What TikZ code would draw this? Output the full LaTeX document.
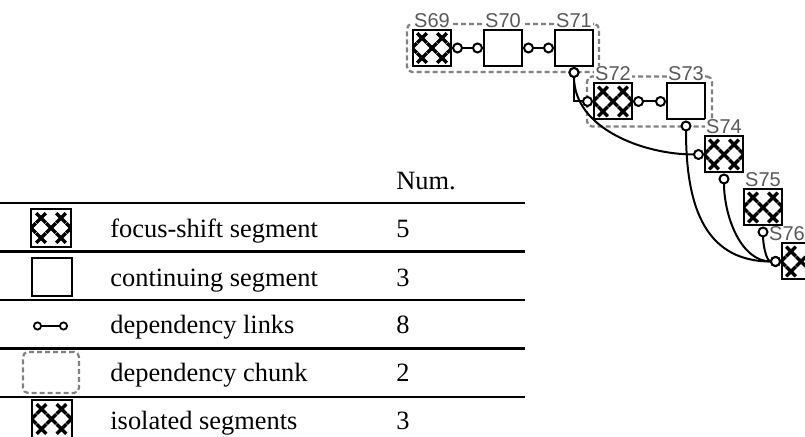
\documentclass[tikz,border=0pt]{standalone}
\usepackage{fontspec}
\setmainfont{Liberation Serif}
\newfontfamily\segfont{Liberation Sans}
\usetikzlibrary{arrows.meta, positioning, fit, backgrounds}
\tikzset{
  seg/.style={rectangle,draw,line width=1pt,minimum width=19pt,minimum height=18pt,inner sep=0pt,fill=white},
  focus/.style={seg,path picture={
      \begin{scope}[shift={(path picture bounding box.center)}]
      \foreach \cx/\cy in {-5/5,5/5,0/0,-5/-5,5/-5,-10/0,10/0}
        \draw[line width=1.6pt] ({(\cx-2.4)*1pt},{(\cy-2.4)*1pt}) -- ({(\cx+2.4)*1pt},{(\cy+2.4)*1pt})
                                ({(\cx-2.4)*1pt},{(\cy+2.4)*1pt}) -- ({(\cx+2.4)*1pt},{(\cy-2.4)*1pt});
      \end{scope}}},
  seglabel/.style={font=\segfont\fontsize{10}{11}\selectfont,text=black!65,fill=white,inner sep=0.5pt},
  chunk/.style={draw=black!50,dash pattern=on 2.5pt off 1.5pt,line width=1.1pt,rounded corners=2.5pt},
  link/.style={line width=1pt,{Circle[length=5.5pt,fill=white]}-{Circle[length=5.5pt,fill=white]}},
  txt/.style={anchor=base west,inner sep=0pt,font=\fontsize{13.2}{15}\selectfont}
}
\begin{document}
\begin{tikzpicture}[x=0.5pt,y=-0.5pt]
\useasboundingbox (0,0) rectangle (805,437);
% segments
\node[focus,label={[seglabel]above:S69}] (s69) at (432,48) {};
\node[seg,right=15.5pt of s69,label={[seglabel]above:S70}] (s70) {};
\node[seg,right=15.5pt of s70,label={[seglabel]above:S71}] (s71) {};
\node[focus,below right=7.75pt and -0.5pt of s71,label={[seglabel]above:S72}] (s72) {};
\node[seg,right=16.5pt of s72,label={[seglabel]above:S73}] (s73) {};
\node[focus,below right=7.5pt and -1pt of s73,label={[seglabel]above:S74}] (s74) {};
\node[focus,below right=7.5pt and -0.5pt of s74,label={[seglabel]above:S75}] (s75) {};
\node[focus,below right=8pt and -1pt of s75,label={[seglabel,xshift=-7pt]above:S76}] (s76) {};
% chunks
\begin{scope}[on background layer]
\node[chunk,fit=(s69)(s71),inner sep=2.5pt] (chunkA) {};
\node[chunk,fit=(s72)(s73),inner sep=3pt] (chunkB) {};
\end{scope}
% links
\draw[link] (s69) -- (s70);
\draw[link] (s70) -- (s71);
\draw[link] (s71.south) |- (s72);
\draw[link] (s72) -- (s73);
\draw[link] (s71.south) to[out=-90,in=180] (s74.west);
\draw[link] (s73.south) to[out=-90,in=180,looseness=1.2] (s76.west);
\draw[link] (s74.south) to[out=-90,in=180] (s76.west);
\draw[link] (s75.south) to[out=-90,in=180] (s76.west);

% legend
\foreach \ry in {203,251.5,300,348.5,397}
  \draw[line width=1.2pt] (0,\ry) -- (525,\ry);
\node[txt] (hdnum) at (396,190) {Num.};
\node[focus,minimum width=20pt,minimum height=19pt] (keyfocus) at (51,228) {};
\node[txt] (lbfocus) at (110,238) {focus-shift segment};
\node[txt] (nmfocus) at (396,238) {5};
\node[seg,minimum width=20pt,minimum height=19pt] (keycont) at (51.5,277.5) {};
\node[txt] (lbcont) at (110,286.5) {continuing segment};
\node[txt] (nmcont) at (396,286.5) {3};
\coordinate (keylinkA) at (33,326);
\coordinate (keylinkB) at (68,326);
\draw[link,line width=0.9pt,{Circle[length=4.5pt,fill=white]}-{Circle[length=4.5pt,fill=white]}] (keylinkA) -- (keylinkB);
\node[txt] (lblink) at (110,334) {dependency links};
\node[txt] (nmlink) at (396,334) {8};
\node[chunk,minimum width=28pt,minimum height=20.5pt,inner sep=0pt] (keychunk) at (51,372.5) {};
\node[txt] (lbchunk) at (110,382) {dependency chunk};
\node[txt] (nmchunk) at (396,382) {2};
\node[focus,minimum width=20pt,minimum height=19pt] (keyiso) at (51.5,419) {};
\node[txt] (lbiso) at (110,430) {isolated segments};
\node[txt] (nmiso) at (396,430) {3};
\end{tikzpicture}
\end{document}
